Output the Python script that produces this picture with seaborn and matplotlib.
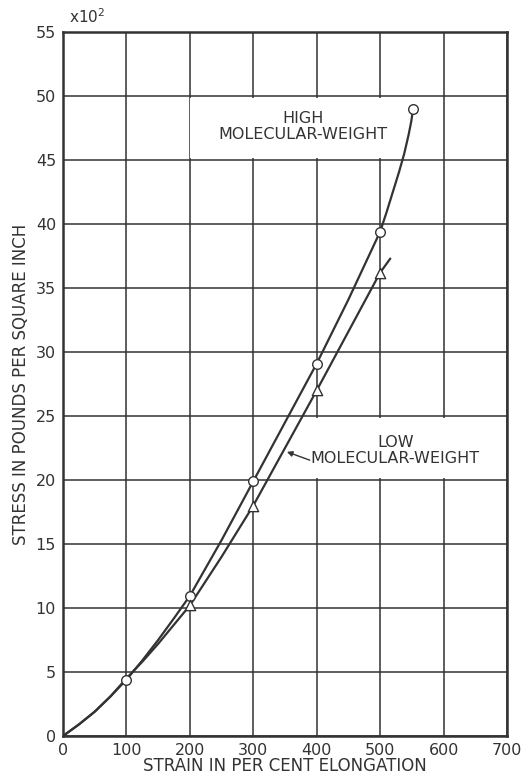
import matplotlib
matplotlib.use("Agg")
import matplotlib.pyplot as plt
import seaborn as sns
import pandas as pd
from matplotlib.patches import Rectangle

# ---- data ----
strain_ticks = [0, 100, 200, 300, 400, 500, 600, 700]
stress_ticks = [0, 5, 10, 15, 20, 25, 30, 35, 40, 45, 50, 55]

high_marker_x = [100, 200, 300, 400, 500, 552]
high_marker_y = [4.4, 10.95, 19.9, 29.1, 39.4, 49.0]
low_marker_x = [200, 300, 400, 500]
low_marker_y = [10.2, 18.0, 27.0, 36.2]

high_curve_x = [0, 25, 50, 75, 100, 125, 150, 175, 200, 250, 300, 350, 400, 450, 500,
                510, 520, 530, 538, 545, 549, 552]
high_curve_y = [0, 0.9, 1.9, 3.1, 4.4, 5.9, 7.5, 9.2, 10.95, 15.3, 19.9, 24.5, 29.1, 34.1, 39.4,
                40.9, 42.5, 44.1, 45.5, 47.0, 48.0, 49.0]
low_curve_x = [0, 25, 50, 75, 100, 125, 150, 175, 200, 250, 300, 350, 400, 450, 500, 516]
low_curve_y = [0, 0.9, 1.9, 3.1, 4.5, 5.8, 7.2, 8.7, 10.2, 14.0, 18.0, 22.5, 27.0, 31.6, 36.2, 37.3]

x_label = "STRAIN IN PER CENT ELONGATION"
y_label = "STRESS IN POUNDS PER SQUARE INCH"
high_label = "HIGH\nMOLECULAR-WEIGHT"
low_label = "LOW\nMOLECULAR-WEIGHT"

sns.set_theme(style="white")
plt.rcParams['font.family'] = ['DejaVu Sans']

ink = "#333333"
fig = plt.figure(figsize=(5.22, 7.75), dpi=100)
ax = fig.add_axes([63/522, 39/775, 444/522, 704/775])

high_curve = pd.DataFrame({"x": high_curve_x, "y": high_curve_y})
low_curve = pd.DataFrame({"x": low_curve_x, "y": low_curve_y})
high_pts = pd.DataFrame({"x": high_marker_x, "y": high_marker_y})
low_pts = pd.DataFrame({"x": low_marker_x, "y": low_marker_y})

sns.lineplot(data=high_curve, x="x", y="y", sort=False, color=ink, lw=1.6, ax=ax, zorder=3)
sns.lineplot(data=low_curve, x="x", y="y", sort=False, color=ink, lw=1.6, ax=ax, zorder=3)
sns.scatterplot(data=high_pts, x="x", y="y", marker="o", s=48, facecolor="white",
                edgecolor=ink, linewidth=1.0, ax=ax, zorder=4)
sns.scatterplot(data=low_pts, x="x", y="y", marker="^", s=55, facecolor="white",
                edgecolor=ink, linewidth=1.0, ax=ax, zorder=4)

ax.set_xlim(0, 700)
ax.set_ylim(0, 55)
ax.set_xticks(strain_ticks)
ax.set_yticks(stress_ticks)
ax.set_xticklabels([str(v) for v in strain_ticks])
ax.set_yticklabels([str(v) for v in stress_ticks])
ax.set_axisbelow(True)
ax.grid(True, color=ink, lw=1.1)
for sp in ax.spines.values():
    sp.set_color(ink)
    sp.set_linewidth(1.8)
ax.tick_params(axis="both", length=0, labelsize=11.5, colors=ink)
ax.tick_params(axis="y", pad=5)
ax.tick_params(axis="x", pad=5)
ax.set_xlabel(x_label, fontsize=12, color=ink, labelpad=-1)
ax.set_ylabel(y_label, fontsize=12, color=ink, labelpad=4)

# white label panels that interrupt the grid
ax.add_patch(Rectangle((201, 45.15), 360, 4.7, facecolor="white", edgecolor="none", zorder=1))
ax.add_patch(Rectangle((345, 20.15), 353, 4.7, facecolor="white", edgecolor="none", zorder=1))

ax.text(378, 47.6, high_label, ha="center", va="center", multialignment="center",
        fontsize=11.5, linespacing=1.05, color=ink, zorder=5)
ax.text(524, 22.3, low_label, ha="center", va="center", multialignment="center",
        fontsize=11.5, linespacing=1.05, color=ink, zorder=5)
ax.annotate("", xy=(353, 22.2), xytext=(389, 21.55),
            arrowprops=dict(arrowstyle="-|>", color=ink, lw=1.0, shrinkA=0, shrinkB=0,
                            mutation_scale=8))

fig.text(69/522, 1 - 17/775, r"x10$^{2}$", fontsize=11, color=ink, ha="left", va="center")

fig.savefig("out.png", dpi=100, facecolor="white")
